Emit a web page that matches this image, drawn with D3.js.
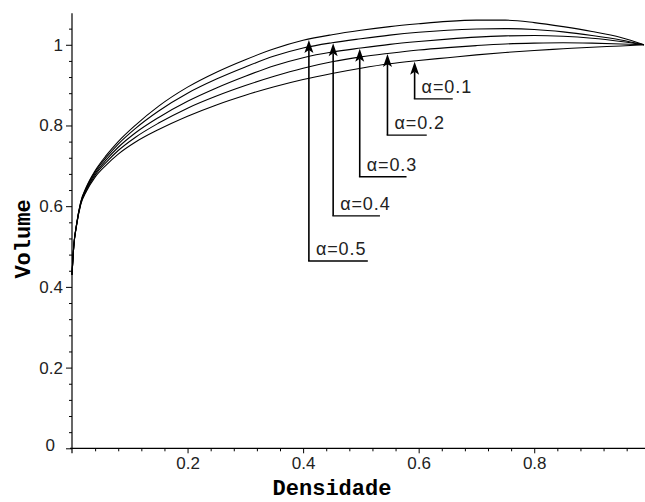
<!DOCTYPE html>
<html>
<head>
<meta charset="utf-8">
<script src="https://cdn.jsdelivr.net/npm/d3@7"></script>
<style>
  body { margin: 0; background: #fff; }
  svg { display: block; }
  .tick text { font-family: "Liberation Sans", Arial, sans-serif; font-size: 17px; fill: #222; }
</style>
</head>
<body>
<svg id="chart" width="645" height="502"></svg>
<script>
// densidade values shared by every curve
const dens = [0, 0.003, 0.008, 0.015, 0.025, 0.04, 0.06, 0.08, 0.11, 0.15, 0.2, 0.25, 0.3, 0.35,
    0.4, 0.45, 0.5, 0.55, 0.6, 0.65, 0.7, 0.75, 0.8, 0.85, 0.9, 0.95, 0.99];

// volume, one list per alpha
const volA05 = [0.43, 0.50, 0.556, 0.61, 0.648, 0.688, 0.727, 0.760, 0.801, 0.848, 0.895, 0.932, 0.963, 0.990,
    1.011, 1.025, 1.036, 1.045, 1.052, 1.058, 1.061, 1.061, 1.055, 1.045, 1.033, 1.018, 1.0];
const volA04 = [0.43, 0.50, 0.556, 0.609, 0.646, 0.685, 0.722, 0.754, 0.793, 0.836, 0.880, 0.915, 0.945, 0.972,
    0.992, 1.005, 1.015, 1.024, 1.031, 1.036, 1.039, 1.040, 1.038, 1.032, 1.023, 1.012, 1.0];
const volA03 = [0.43, 0.50, 0.555, 0.607, 0.643, 0.681, 0.716, 0.746, 0.782, 0.820, 0.860, 0.893, 0.922, 0.948,
    0.968, 0.982, 0.992, 1.001, 1.008, 1.014, 1.019, 1.022, 1.023, 1.021, 1.016, 1.008, 1.0];
const volA02 = [0.43, 0.50, 0.554, 0.605, 0.640, 0.677, 0.710, 0.738, 0.771, 0.806, 0.843, 0.873, 0.899, 0.922,
    0.942, 0.958, 0.970, 0.979, 0.987, 0.993, 0.998, 1.002, 1.004, 1.005, 1.004, 1.002, 1.0];
const volA01 = [0.43, 0.50, 0.553, 0.603, 0.637, 0.672, 0.703, 0.729, 0.759, 0.790, 0.823, 0.851, 0.875, 0.896,
    0.914, 0.929, 0.942, 0.953, 0.961, 0.968, 0.975, 0.981, 0.986, 0.990, 0.994, 0.997, 1.0];

// annotations: label, arrow densidade, tip volume, label-line volume, label-line end densidade
const labels = ["α=0.5", "α=0.4", "α=0.3", "α=0.2", "α=0.1"];
const arrowX = [0.41, 0.452, 0.498, 0.546, 0.593];
const arrowTip = [1.012, 1.004, 0.990, 0.977, 0.958];
const arrowBase = [0.464, 0.576, 0.673, 0.776, 0.866];
const lineEnd = [0.512, 0.533, 0.579, 0.614, 0.659];

const xTicks = [0.2, 0.4, 0.6, 0.8];
const yTicks = [0, 0.2, 0.4, 0.6, 0.8, 1];

const svg = d3.select("#chart");

let x = d3.scaleLinear().domain([0, 0.99]).range([72, 644]);
let y = d3.scaleLinear().domain([0, 1.078]).range([448.3, 13.3]);

// minor ticks every 0.04
let xMinor = d3.range(0, 0.99, 0.04).filter(v => Math.abs(v / 0.2 - Math.round(v / 0.2)) > 1e-6);
let yMinor = d3.range(0, 1.078, 0.04).filter(v => Math.abs(v / 0.2 - Math.round(v / 0.2)) > 1e-6);

svg.append("g")
    .attr("transform", "translate(0," + y(0) + ")")
    .call(d3.axisBottom(x).tickValues(xMinor).tickSize(3).tickFormat(""))
    .call(g => g.select(".domain").remove());
svg.append("g")
    .attr("transform", "translate(0," + y(0) + ")")
    .call(d3.axisBottom(x).tickValues(xTicks).tickSize(5).tickPadding(4).tickFormat(d3.format(".1f")))
    .call(g => g.select(".domain").remove());

svg.append("g")
    .attr("transform", "translate(" + x(0) + ",0)")
    .call(d3.axisLeft(y).tickValues(yMinor).tickSize(3).tickFormat(""))
    .call(g => g.select(".domain").remove());
svg.append("g")
    .attr("transform", "translate(" + x(0) + ",0)")
    .call(d3.axisLeft(y).tickValues(yTicks).tickSize(6).tickPadding(3)
        .tickFormat(d => d === 0 || d === 1 ? String(d) : d3.format(".1f")(d)))
    .call(g => g.select(".domain").remove())
    .call(g => g.selectAll(".tick").filter(d => d === 0).select("text").attr("dx", -8).attr("dy", "0.1em"));

// axis lines
svg.append("line")
    .attr("x1", x(0) - 2).attr("x2", 645)
    .attr("y1", y(0)).attr("y2", y(0))
    .attr("stroke", "#000").attr("stroke-width", 1.2);
svg.append("line")
    .attr("x1", x(0)).attr("x2", x(0))
    .attr("y1", y(0) + 5).attr("y2", y(1.078))
    .attr("stroke", "#000").attr("stroke-width", 1.2);

// curves
let line = d3.line()
    .x((d, i) => x(dens[i]))
    .y(d => y(d))
    .curve(d3.curveMonotoneX);

[volA05, volA04, volA03, volA02, volA01].forEach(vals => {
    svg.append("path")
        .attr("d", line(vals))
        .attr("fill", "none")
        .attr("stroke", "#000")
        .attr("stroke-width", 1.1);
});

// arrows with labels
labels.forEach((lab, i) => {
    let ax = x(arrowX[i]);
    let tip = y(arrowTip[i]);
    let base = y(arrowBase[i]);
    svg.append("line")
        .attr("x1", ax).attr("x2", ax)
        .attr("y1", base).attr("y2", tip + 10)
        .attr("stroke", "#000").attr("stroke-width", 1.6);
    svg.append("line")
        .attr("x1", ax - 0.8).attr("x2", x(lineEnd[i]))
        .attr("y1", base).attr("y2", base)
        .attr("stroke", "#000").attr("stroke-width", 1.4);
    svg.append("path")
        .attr("d", "M" + ax + "," + tip + " L" + (ax - 4.5) + "," + (tip + 13) +
            " L" + ax + "," + (tip + 10) + " L" + (ax + 4.5) + "," + (tip + 13) + " Z")
        .attr("fill", "#000");
    svg.append("text")
        .attr("x", ax + 7)
        .attr("y", base - 6)
        .attr("font-family", "'Liberation Sans', Arial, sans-serif")
        .attr("font-size", 18)
        .attr("letter-spacing", 0.9)
        .attr("fill", "#222")
        .text(lab);
});

// axis titles
svg.append("text")
    .attr("x", 332)
    .attr("y", 495)
    .attr("text-anchor", "middle")
    .attr("font-family", "'Liberation Mono', 'Courier New', monospace")
    .attr("font-weight", "bold")
    .attr("font-size", 22)
    .text("Densidade");

svg.append("text")
    .attr("transform", "translate(30,239) rotate(-90)")
    .attr("text-anchor", "middle")
    .attr("font-family", "'Liberation Mono', 'Courier New', monospace")
    .attr("font-weight", "bold")
    .attr("font-size", 22)
    .text("Volume");
</script>
</body>
</html>
